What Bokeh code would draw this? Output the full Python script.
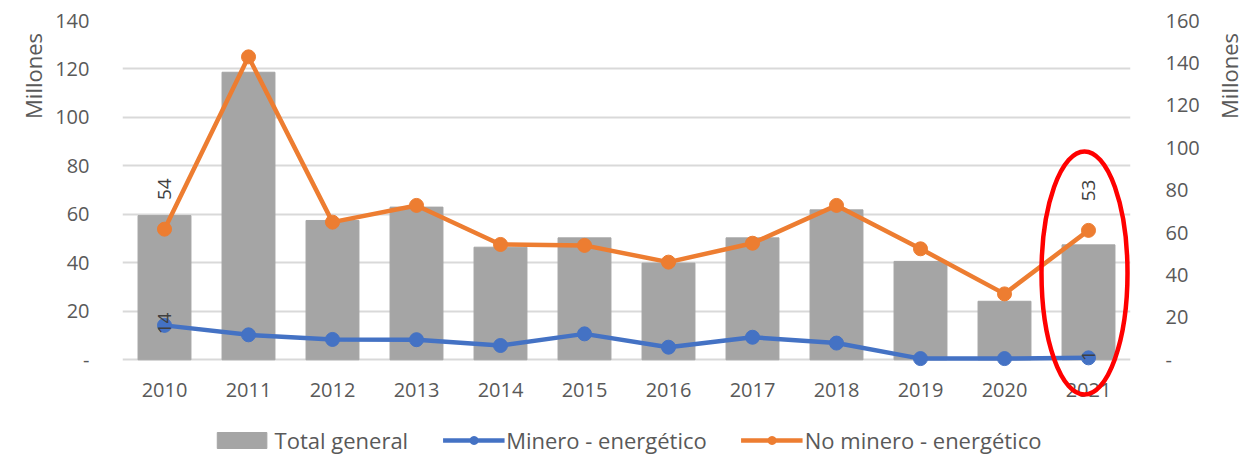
import numpy as np
from bokeh.plotting import figure
from bokeh.layouts import row
from bokeh.models import (Range1d, LinearAxis, FixedTicker, Legend, LegendItem)
from bokeh.core.properties import value
from bokeh.embed import file_html
from bokeh.resources import INLINE

# ---------------- data ----------------
years = ["2010", "2011", "2012", "2013", "2014", "2015",
         "2016", "2017", "2018", "2019", "2020", "2021"]
total_general = [68.0, 135.6, 65.7, 72.0, 53.1, 57.5, 45.6, 57.5, 70.7, 46.4, 27.6, 54.2]
minero = [14.2, 10.3, 8.4, 8.3, 5.9, 10.7, 5.2, 9.3, 6.9, 0.5, 0.5, 0.8]
no_minero = [53.9, 125.0, 56.8, 63.7, 47.6, 47.2, 40.3, 48.1, 63.7, 45.8, 27.2, 53.4]
left_ticks = [0, 20, 40, 60, 80, 100, 120, 140]
right_ticks = [0, 20, 40, 60, 80, 100, 120, 140, 160]
labeled_points = [0, 11]          # points carrying data labels
highlight_year = "2021"
axis_title = "Millones"

# ---------------- geometry (page px) ----------------
H = 455
LW, RW = 46, 38                   # side strips holding the rotated axis titles
MAIN_L, MAIN_R = LW, 1206         # main figure spans these page x
FL, FR, FT = 122, 1130, 20        # frame left / right / top
FB = H                            # frame runs to the bottom (room for ellipse + legend)
zero_px = 359.3                   # y of the zero line
left_top, right_top = 140, 160
ppu_left = (zero_px - FT) / left_top
ppu_right = (zero_px - FT) / right_top
left_start = -(FB - zero_px) / ppu_left
right_start = -(FB - zero_px) / ppu_right
step = (FR - FL) / len(years)


def x_of(px):
    return -0.5 + (px - FL) / step


def y_of(py):
    return (zero_px - py) / ppu_left


GREY_TXT = "#595959"
FONT = "Open Sans"

xs = list(range(len(years)))

p = figure(width=MAIN_R - MAIN_L, height=H, output_backend="svg", toolbar_location=None,
           x_range=Range1d(-0.5, len(years) - 0.5),
           y_range=Range1d(left_start, left_top),
           x_axis_location=None,
           min_border_left=FL - MAIN_L, min_border_right=MAIN_R - FR,
           min_border_top=FT, min_border_bottom=0)
p.outline_line_color = None
p.background_fill_color = "white"
p.extra_y_ranges = {"right": Range1d(right_start, right_top)}

yl = p.yaxis[0]
yl.ticker = FixedTicker(ticks=left_ticks)
yl.major_label_overrides = {0: "-"}
yr = LinearAxis(y_range_name="right", ticker=FixedTicker(ticks=right_ticks),
                major_label_overrides={0: "-"})
p.add_layout(yr, "right")
for ax, standoff in ((yl, 27), (yr, 29)):
    ax.axis_line_color = None
    ax.major_tick_line_color = None
    ax.minor_tick_line_color = None
    ax.major_label_text_font = FONT
    ax.major_label_text_font_size = "20px"
    ax.major_label_text_color = GREY_TXT
    ax.major_label_standoff = standoff

p.xgrid.visible = False
p.ygrid.ticker = FixedTicker(ticks=left_ticks)
p.ygrid.grid_line_color = "#D9D9D9"
p.ygrid.grid_line_width = 2

# bars (secondary axis)
bars = p.vbar(x=xs, top=total_general, bottom=0, width=0.63, color="#A5A5A5",
              y_range_name="right")

# lines (primary axis)
bl = p.line(xs, minero, line_color="#4472C4", line_width=4.5)
bs = p.scatter(xs, minero, size=14, color="#4472C4")
ol = p.line(xs, no_minero, line_color="#ED7D31", line_width=4.5)
osc = p.scatter(xs, no_minero, size=14, color="#ED7D31")

# year labels
p.text(x=xs, y=[0] * len(xs), text=years, y_offset=30,
       text_align="center", text_baseline="middle",
       text_font=value(FONT), text_font_size="20px", text_color=GREY_TXT)

# data labels
lab_x = [xs[i] for i in labeled_points]
p.text(x=lab_x, y=[no_minero[i] for i in labeled_points],
       text=[str(int(round(no_minero[i]))) for i in labeled_points],
       angle=np.pi / 2, y_offset=-40, text_align="center", text_baseline="middle",
       text_font=value(FONT), text_font_size="19px", text_color="#404040")
p.text(x=lab_x, y=[minero[i] for i in labeled_points],
       text=[str(int(round(minero[i]))) for i in labeled_points],
       angle=np.pi / 2, y_offset=-2, text_align="center", text_baseline="middle",
       text_font=value(FONT), text_font_size="19px", text_color="#404040")

# red highlight ellipse around the last year
hi = years.index(highlight_year)
p.ellipse(x=[x_of(1084)], y=[y_of(272.5)], width=86, height=243,
          width_units="screen", height_units="screen",
          fill_color=None, line_color="#FF0000", line_width=4.5)

legend = Legend(items=[
    LegendItem(label="Total general", renderers=[bars]),
    LegendItem(label="Minero - energético", renderers=[bl, bs]),
    LegendItem(label="No minero - energético", renderers=[ol, osc]),
], orientation="horizontal", location="bottom_center")
legend.border_line_color = None
legend.background_fill_alpha = 0
legend.label_text_font = FONT
legend.label_text_font_size = "22px"
legend.label_text_color = GREY_TXT
legend.glyph_width = 62
legend.glyph_height = 20
legend.label_standoff = 2
legend.spacing = 34
legend.padding = 0
legend.margin = 0
p.add_layout(legend)


# side strips with the rotated axis titles ("Millones"), placed at the top
def title_strip(width, cx):
    s = figure(width=width, height=H, output_backend="svg", toolbar_location=None,
               x_range=Range1d(0, width), y_range=Range1d(H, 0),
               x_axis_location=None, y_axis_location=None,
               min_border=0, title=None)
    s.outline_line_color = None
    s.grid.visible = False
    s.text(x=[cx], y=[58], text=[axis_title], angle=np.pi / 2,
           text_align="center", text_baseline="middle",
           text_font=value(FONT), text_font_size="22px", text_color=GREY_TXT)
    return s


left_strip = title_strip(LW, 32)
right_strip = title_strip(RW, 1228 - MAIN_R)

layout = row(left_strip, p, right_strip, spacing=0)

open("out.html", "w").write(file_html(layout, INLINE))
